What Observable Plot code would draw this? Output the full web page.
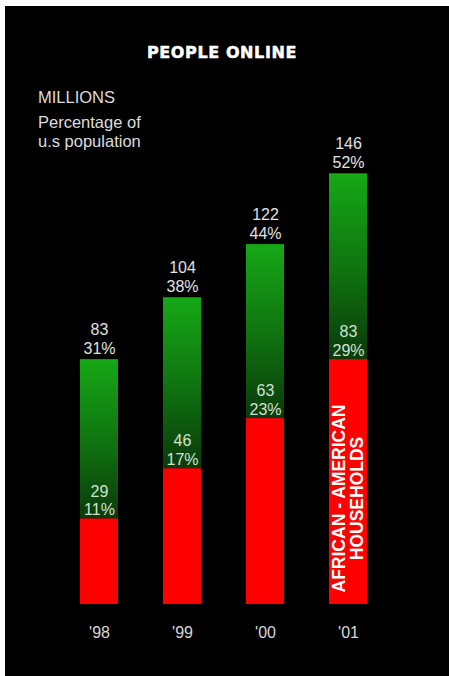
<!DOCTYPE html>
<html>
<head>
<meta charset="utf-8">
<script src="https://cdn.jsdelivr.net/npm/d3@7"></script>
<script src="https://cdn.jsdelivr.net/npm/@observablehq/plot@0.6"></script>
<style>
  html, body { margin: 0; padding: 0; background: #ffffff; }
  #panel { position: absolute; left: 5px; top: 6px; width: 444px; height: 670px; background: #000; overflow: hidden; }
  #panel svg { position: absolute; left: 0; top: 0; }
  .t { position: absolute; white-space: nowrap; line-height: 1; font-family: "Liberation Sans", Arial, sans-serif; color: #dcdcdc; }
  #title { left: 0; width: 434px; text-align: center; top: 39px; font-family: "DejaVu Sans", sans-serif; font-weight: bold; font-size: 16px; letter-spacing: 0.6px; color: #fff; -webkit-text-stroke: 0.5px #fff; }
  #unit1 { left: 33px; top: 83px; font-size: 16.5px; }
  #unit2 { left: 33px; top: 108px; font-size: 16.5px; }
  #unit3 { left: 33px; top: 127px; font-size: 16.5px; }
</style>
</head>
<body>
<div id="panel">
  <div id="title" class="t">PEOPLE ONLINE</div>
  <div id="unit1" class="t">MILLIONS</div>
  <div id="unit2" class="t">Percentage of</div>
  <div id="unit3" class="t">u.s population</div>
</div>
<script>
const years = ["'98", "'99", "'00", "'01"];
const totalMillions = [83, 104, 122, 146];
const totalPct = [31, 38, 44, 52];
const aaMillions = [29, 46, 63, 83];
const aaPct = [11, 17, 23, 29];
const aaLabel = "AFRICAN - AMERICAN\nHOUSEHOLDS";

const data = years.map((year, i) => ({
  year,
  total: totalMillions[i],
  totalPct: totalPct[i],
  aa: aaMillions[i],
  aaPct: aaPct[i]
}));

const chart = Plot.plot({
  width: 444,
  height: 670,
  marginLeft: 52,
  marginRight: 58,
  marginTop: 126,
  marginBottom: 72,
  style: { background: "black", color: "#d8d8d8", fontFamily: "'Liberation Sans', Arial, sans-serif", fontSize: "16px" },
  x: { domain: years, paddingInner: 0.54, paddingOuter: 0.27, label: null, tickSize: 0, tickPadding: 22 },
  y: { domain: [0, 160], axis: null },
  marks: [
    Plot.barY(data, { x: "year", y1: "aa", y2: "total", fill: "url(#greenGrad)" }),
    Plot.barY(data, { x: "year", y1: 0, y2: "aa", fill: "#ff0000" }),
    Plot.text(data, {
      x: "year", y: "total",
      text: d => `${d.total}\n${d.totalPct}%`,
      lineAnchor: "bottom", lineHeight: 1.15, dy: -6,
      fill: "#e2e2e2", fontSize: 16
    }),
    Plot.text(data, {
      x: "year", y: "aa",
      text: d => `${d.aa}\n${d.aaPct}%`,
      lineAnchor: "bottom", lineHeight: 1.15, dy: -4,
      fill: "#d2e0d2", fontSize: 16
    }),
    Plot.text(data.slice(-1), {
      x: "year", y: 0,
      text: () => aaLabel,
      rotate: -90, textAnchor: "middle", lineAnchor: "middle", lineHeight: 1,
      dy: -106, fontWeight: "bold", fontSize: 17.5, fill: "#ffffff"
    })
  ]
});

const ns = "http://www.w3.org/2000/svg";
const defs = document.createElementNS(ns, "defs");
const grad = document.createElementNS(ns, "linearGradient");
grad.setAttribute("id", "greenGrad");
grad.setAttribute("x1", "0"); grad.setAttribute("y1", "0");
grad.setAttribute("x2", "0"); grad.setAttribute("y2", "1");
[["0%", "#16a816"], ["55%", "#0f7010"], ["100%", "#0a3a0a"]].forEach(([o, c]) => {
  const s = document.createElementNS(ns, "stop");
  s.setAttribute("offset", o);
  s.setAttribute("stop-color", c);
  grad.appendChild(s);
});
defs.appendChild(grad);
chart.insertBefore(defs, chart.firstChild);

const panel = document.getElementById("panel");
panel.insertBefore(chart, panel.firstChild);
</script>
</body>
</html>
